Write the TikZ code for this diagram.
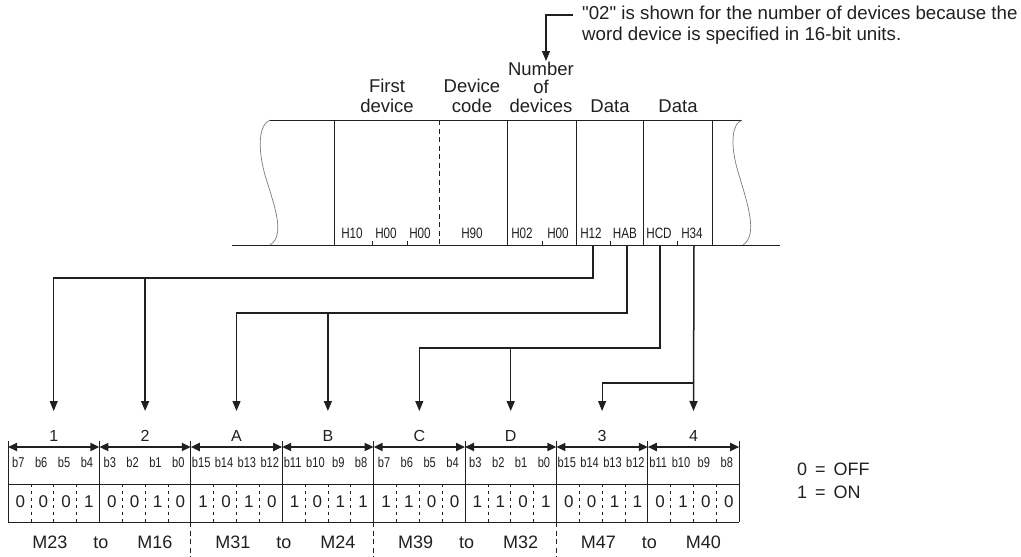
\documentclass[tikz,border=0pt]{standalone}
\usepackage{fontspec}
\setmainfont{Liberation Sans}[Ligatures=TeXOff]
\newfontfamily\narrowfont[FakeStretch=0.78]{Liberation Sans}
\usetikzlibrary{arrows.meta}
\definecolor{ink}{RGB}{35,31,32}
\begin{document}
\begin{tikzpicture}[x=1pt,y=-1pt,
  every node/.style={text=ink, inner sep=0pt},
  lbl/.style={font=\fontsize{18.5}{20}\selectfont, anchor=base},
  nlbl/.style={font=\fontsize{18.7}{20}\selectfont, anchor=base west},
  hlbl/.style={font=\narrowfont\fontsize{15}{16}\selectfont, anchor=base},
  blbl/.style={font=\narrowfont\fontsize{14.2}{15}\selectfont, anchor=base},
  glbl/.style={font=\fontsize{16}{17}\selectfont, anchor=base},
  vlbl/.style={font=\fontsize{17}{18}\selectfont, anchor=base},
  mlbl/.style={font=\fontsize{18}{19}\selectfont, anchor=base},
  frame/.style={draw=ink, line width=1pt},
  wavy/.style={draw=ink!60, line width=0.7pt},
  qdash/.style={draw=ink, line width=0.7pt, dash pattern=on 3pt off 4pt},
  sdash/.style={draw=ink, line width=0.9pt, dash pattern=on 5pt off 3.5pt},
  tip/.style={-{Triangle[length=10pt,width=8pt]}},
  cn/.style={draw=ink, line width=1.1pt, tip},
  cnb/.style={draw=ink, line width=1.5pt, tip},
  darr/.style={draw=ink, line width=1.8pt, {Triangle[length=9pt,width=8pt]}-{Triangle[length=9pt,width=8pt]}}
]
\useasboundingbox (0,0) rectangle (1021,557);

% ---------- top frame ----------
\draw[frame] (270,120) -- (742,120);
\draw[frame] (232,245) -- (780,245);
\foreach \x in {334,507,576,643,712} \draw[frame] (\x,120) -- (\x,245);
\draw[sdash] (439,120) -- (439,245);
\draw[wavy] (270,120) .. controls (258,125) and (258,150) .. (265,175) .. controls (274,205) and (286,235) .. (270,245);
\draw[wavy] (742,120) .. controls (730,125) and (731,150) .. (739,175) .. controls (748,205) and (758,235) .. (743,245);
\foreach \x in {372,407,542,610,677} \draw[frame] (\x,241) -- (\x,245);

% headings
\node[lbl] (first1) at (387,92) {First};
\node[lbl] (first2) at (387,112) {device};
\node[lbl] (dev1) at (472,92) {Device};
\node[lbl] (dev2) at (472,112) {code};
\node[lbl] (num1) at (541,75) {Number};
\node[lbl] (num2) at (541,93.5) {of};
\node[lbl] (num3) at (541,112) {devices};
\node[lbl] (data1) at (610,112) {Data};
\node[lbl] (data2) at (678,112) {Data};

% annotation
\node[nlbl] (note1) at (582,19) {"02" is shown for the number of devices because the};
\node[nlbl] (note2) at (582,40) {word device is specified in 16-bit units.};
\coordinate (nk) at (573,15);
\coordinate (nc) at (546,15);
\coordinate (na) at (546,61);
\draw[cn] (nk) -- (nc) -- (na);

% byte values
\foreach \t/\x [count=\k] in {H10/352,H00/386,H00/420,H90/472,H02/522,H00/558,H12/591,HAB/625,HCD/659,H34/692}
  \node[hlbl] (h\k) at (\x,238) {\t};

% ---------- connectors ----------
\coordinate (s1) at (593,245);
\coordinate (s2) at (627,245);
\coordinate (s3) at (660,245);
\coordinate (s4) at (694,245);
\coordinate (l1) at (0,278);
\coordinate (l2) at (0,313);
\coordinate (l3) at (0,348);
\coordinate (l4) at (0,383);
\foreach \i in {0,...,7} \coordinate (t\i) at ({53.7+91.4*\i},411);

\draw[cn] (s1) -- (s1 |- l1) -| (t0);
\draw[cnb] (t1 |- l1) -- (t1);
\draw[cn] (s2) -- (s2 |- l2) -| (t2);
\draw[cnb] (t3 |- l2) -- (t3);
\draw[cn] (s3) -- (s3 |- l3) -| (t4);
\draw[cnb] (t5 |- l3) -- (t5);
\draw[cnb] (s4) -- (t7);
\draw[cn] (t7 |- l4) -| (t6);

% ---------- bit table ----------
\foreach \i in {0,...,7}
  \draw[darr] ({8+91.4*\i},447) -- ({8+91.4*(\i+1)},447);
\foreach \i in {0,...,8}
  \draw[frame] ({8+91.4*\i},441) -- ({8+91.4*\i},522);
\draw[frame] (8,484) -- (739.2,484);
\draw[frame] (8,522) -- (739.2,522);
\foreach \i in {0,...,7}
  \foreach \j in {1,2,3}
    \draw[qdash] ({8+91.4*\i+22.85*\j},484) -- ({8+91.4*\i+22.85*\j},522);

\foreach \t [count=\i from 0] in {1,2,A,B,C,D,3,4}
  \node[glbl] (g\i) at ({53.7+91.4*\i},441) {\t};

\foreach \grp [count=\i from 0] in {{b7,b6,b5,b4},{b3,b2,b1,b0},{b15,b14,b13,b12},{b11,b10,b9,b8},{b7,b6,b5,b4},{b3,b2,b1,b0},{b15,b14,b13,b12},{b11,b10,b9,b8}}
  \foreach \b [count=\j from 0] in \grp
    \node[blbl] (b\i-\j) at ({8+91.4*\i+11.4+22.85*\j-1},467) {\b};

\foreach \grp [count=\i from 0] in {{0,0,0,1},{0,0,1,0},{1,0,1,0},{1,0,1,1},{1,1,0,0},{1,1,0,1},{0,0,1,1},{0,1,0,0}}
  \foreach \v [count=\j from 0] in \grp
    \node[vlbl] (v\i-\j) at ({8+91.4*\i+11.4+22.85*\j+1},507) {\v};

\foreach \a/\b [count=\k from 0] in {M23/M16,M31/M24,M39/M32,M47/M40} {
  \node[mlbl] (ma\k) at ({50+182.8*\k},548) {\a};
  \node[mlbl] (mt\k) at ({101+182.8*\k},548) {to};
  \node[mlbl] (mb\k) at ({155+182.8*\k},548) {\b};
}
\foreach \x in {190.8,373.6,556.4} \draw[sdash] (\x,522) -- (\x,557);

% legend
\node[mlbl, anchor=base west] (leg0) at (797,475) {0 \,=\, OFF};
\node[mlbl, anchor=base west] (leg1) at (797,498) {1 \,=\, ON};
\end{tikzpicture}
\end{document}
